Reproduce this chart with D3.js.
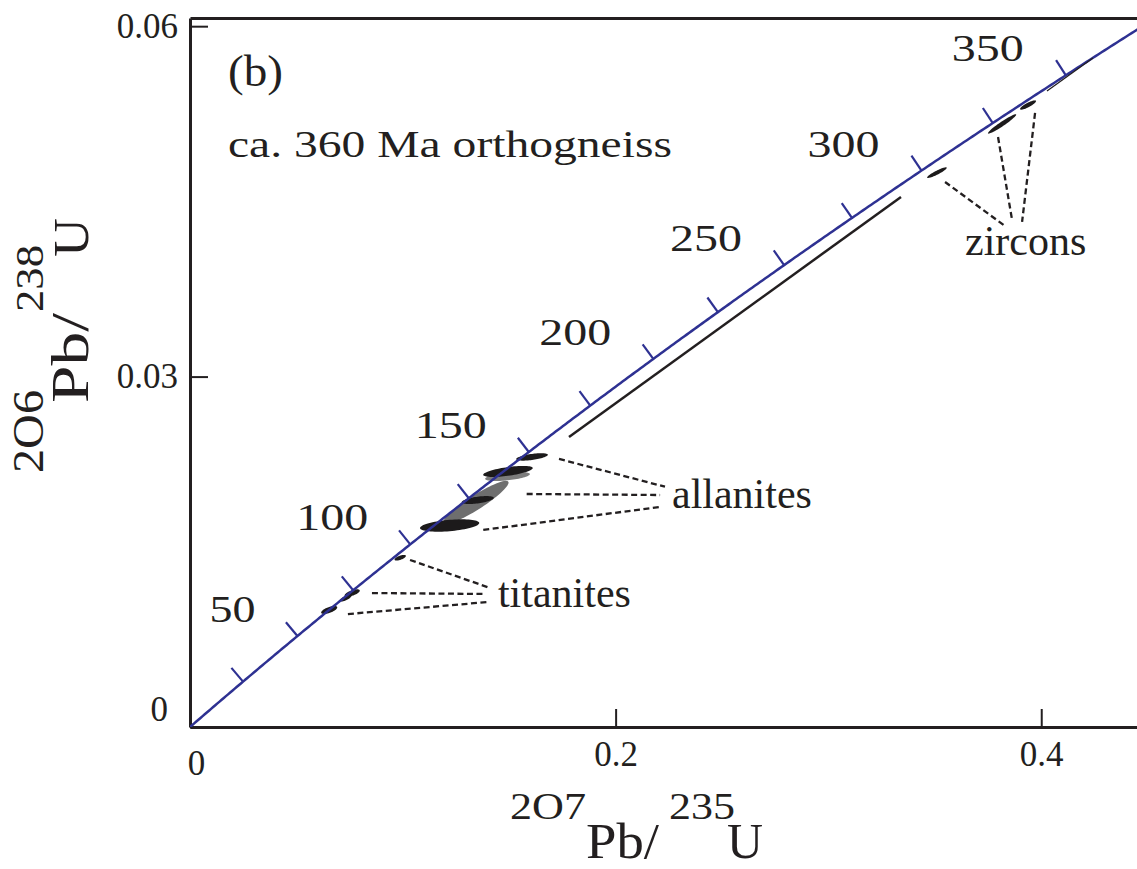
<!DOCTYPE html>
<html>
<head>
<meta charset="utf-8">
<script src="https://cdn.jsdelivr.net/npm/d3@7"></script>
<style>
  body { margin: 0; background: #fff; }
  text { font-family: "Liberation Serif", "Times New Roman", serif; fill: #231f20; }
</style>
</head>
<body>
<div id="chart"></div>
<script>
// axis ticks
var xTicks = [0, 0.2, 0.4];
var yTicks = [0, 0.03, 0.06];

// concordia, ages in Ma
var LAMBDA_235 = 9.8485e-10;
var LAMBDA_238 = 1.55125e-10;
var ageTicks = [25, 50, 75, 100, 125, 150, 175, 200, 225, 250, 275, 300, 325, 350];
var ageLabels = [50, 100, 150, 200, 250, 300, 350];

// error ellipses: 207/235, 206/238, 1 sigma, correlation
var titanites = [
  {x: 0.09878, y: 0.01449, sx: 0.00267, sy: 0.000240, rho: 0.64},
  {x: 0.07622, y: 0.01147, sx: 0.00356, sy: 0.000317, rho: 0.65},
  {x: 0.07307, y: 0.01102, sx: 0.00280, sy: 0.000283, rho: 0.74},
  {x: 0.06541, y: 0.01002, sx: 0.00378, sy: 0.000342, rho: 0.64}
];
var allanitesGrey = [
  {x: 0.1343, y: 0.01922, sx: 0.01538, sy: 0.001853, rho: 0.92},
  {x: 0.1492, y: 0.02145, sx: 0.01051, sy: 0.000385, rho: 0.51}
];
var allanites = [
  {x: 0.1607, y: 0.02312, sx: 0.00745, sy: 0.000318, rho: 0.58},
  {x: 0.1494, y: 0.02188, sx: 0.01164, sy: 0.000471, rho: 0.61},
  {x: 0.1352, y: 0.01943, sx: 0.00754, sy: 0.000342, rho: 0.54},
  {x: 0.1220, y: 0.01725, sx: 0.01391, sy: 0.000531, rho: 0.40}
];
var zircons = [
  {x: 0.3510, y: 0.04746, sx: 0.00462, sy: 0.000454, rho: 0.91},
  {x: 0.3816, y: 0.05163, sx: 0.00664, sy: 0.000830, rho: 0.96},
  {x: 0.3938, y: 0.05325, sx: 0.00376, sy: 0.000398, rho: 0.85}
];

// black chord lines below the concordia
var chords = [
  [[0.1781, 0.02483], [0.3341, 0.04538]],
  [[0.4027, 0.05445], [0.4243, 0.05728]]
];

// mineral labels and their dashed leaders [x1, y1, x2, y2]
var notes = [
  {text: "titanites", x: 0.1447, y: 0.01027, leaders: [
    [0.1034, 0.01430, 0.1410, 0.01190],
    [0.0855, 0.01147, 0.1377, 0.01139],
    [0.0742, 0.00967, 0.1400, 0.01070]]},
  {text: "allanites", x: 0.2265, y: 0.01875, leaders: [
    [0.1734, 0.02295, 0.2232, 0.02057],
    [0.1582, 0.01995, 0.2209, 0.01986],
    [0.1378, 0.01687, 0.2217, 0.01886]]},
  {text: "zircons", x: 0.3642, y: 0.04041, leaders: [
    [0.3548, 0.04666, 0.3830, 0.04289],
    [0.3797, 0.05051, 0.3863, 0.04341],
    [0.3971, 0.05257, 0.3910, 0.04324]]}
];

var W = 1137, H = 869;
var margin = {top: 18, right: 0, bottom: 142, left: 190};

var x = d3.scaleLinear().domain([0, 0.445]).range([margin.left, W - margin.right]);
var y = d3.scaleLinear().domain([0, 0.0607]).range([H - margin.bottom, margin.top]);

var svg = d3.select("#chart").append("svg")
    .attr("width", W)
    .attr("height", H);

svg.append("defs").append("clipPath").attr("id", "plot")
  .append("rect")
    .attr("x", x(0)).attr("y", y.range()[1])
    .attr("width", x.range()[1] - x(0))
    .attr("height", y(0) - y.range()[1]);

var ink = "#231f20";
var blue = "#2e3192";

// axes
var xAxis = d3.axisBottom(x).tickValues(xTicks).tickSize(-18).tickSizeOuter(0).tickPadding(14)
    .tickFormat(function(d) { return d === 0 ? "0" : String(d); });
var yAxis = d3.axisLeft(y).tickValues(yTicks).tickSize(-18).tickSizeOuter(0).tickPadding(12)
    .tickFormat(function(d) { return d === 0 ? "0" : String(d); });

var gx = svg.append("g")
    .attr("transform", "translate(0," + y(0) + ")")
    .call(xAxis);
var gy = svg.append("g")
    .attr("transform", "translate(" + x(0) + ",0)")
    .call(yAxis);
svg.append("g")
    .attr("transform", "translate(0," + y.range()[1] + ")")
    .call(d3.axisTop(x).tickValues([]).tickSizeOuter(0));

[gx, gy].forEach(function(g) {
  g.selectAll(".tick line").attr("stroke", ink).attr("stroke-width", 2);
  g.selectAll("text").attr("font-size", 35).attr("font-family", "Liberation Serif").attr("fill", ink);
});
svg.selectAll(".domain").attr("stroke", ink).attr("stroke-width", 3);
gx.selectAll(".tick text").filter(function(d) { return d === 0; })
    .attr("dy", "0.98em").attr("dx", 6);
gy.selectAll(".tick text").filter(function(d) { return d === 0; })
    .attr("dy", "-0.2em").attr("dx", -10);

// ellipses
function ellipse(d) {
  var k = Math.sqrt(1 - d.rho * d.rho);
  var pts = d3.range(0, 72).map(function(i) {
    var a = i / 72 * 2 * Math.PI;
    return [d.x + d.sx * Math.cos(a), d.y + d.sy * (d.rho * Math.cos(a) + k * Math.sin(a))];
  });
  return d3.line().x(function(p) { return x(p[0]); }).y(function(p) { return y(p[1]); })
    .curve(d3.curveLinearClosed)(pts);
}

var plot = svg.append("g").attr("clip-path", "url(#plot)");

plot.selectAll(".grey").data(allanitesGrey).enter().append("path")
    .attr("class", "grey")
    .attr("d", ellipse)
    .attr("fill", function(d, i) { return i === 0 ? "#6e6e6e" : "#7c7c7c"; });

plot.selectAll(".dark").data(titanites.concat(allanites, zircons)).enter().append("path")
    .attr("class", "dark")
    .attr("d", ellipse)
    .attr("fill", "#1c1a1b");

// concordia
function cx(t) { return Math.exp(LAMBDA_235 * t * 1e6) - 1; }
function cy(t) { return Math.exp(LAMBDA_238 * t * 1e6) - 1; }

plot.append("path")
    .datum(d3.range(0, 381, 1))
    .attr("d", d3.line().x(function(t) { return x(cx(t)); }).y(function(t) { return y(cy(t)); }))
    .attr("fill", "none")
    .attr("stroke", blue)
    .attr("stroke-width", 2.5);

function tickGeom(t) {
  var px = x(cx(t)), py = y(cy(t));
  var tx = (x(cx(t + 1)) - x(cx(t - 1))), ty = (y(cy(t + 1)) - y(cy(t - 1)));
  var n = Math.sqrt(tx * tx + ty * ty);
  return {px: px, py: py, nx: ty / n, ny: -tx / n};
}

plot.selectAll(".ageTick").data(ageTicks).enter().append("line")
    .attr("class", "ageTick")
    .each(function(t) {
      var g = tickGeom(t);
      d3.select(this)
        .attr("x1", g.px).attr("y1", g.py)
        .attr("x2", g.px + g.nx * 18).attr("y2", g.py + g.ny * 18);
    })
    .attr("stroke", blue)
    .attr("stroke-width", 2.2);

svg.selectAll(".ageLabel").data(ageLabels).enter().append("text")
    .attr("class", "ageLabel")
    .each(function(t) {
      var g = tickGeom(t);
      var len = t < 100 ? 46 : 72;
      d3.select(this)
        .attr("x", g.px - 42 - len)
        .attr("y", g.py - 14)
        .attr("textLength", len);
    })
    .attr("lengthAdjust", "spacingAndGlyphs")
    .attr("font-size", 37)
    .text(function(t) { return t; });

// chords
plot.selectAll(".chord").data(chords).enter().append("line")
    .attr("class", "chord")
    .attr("x1", function(d) { return x(d[0][0]); })
    .attr("y1", function(d) { return y(d[0][1]); })
    .attr("x2", function(d) { return x(d[1][0]); })
    .attr("y2", function(d) { return y(d[1][1]); })
    .attr("stroke", ink)
    .attr("stroke-width", function(d, i) { return i === 0 ? 2.5 : 1.3; });

// leaders and labels
var note = svg.selectAll(".note").data(notes).enter().append("g").attr("class", "note");
note.selectAll("line").data(function(d) { return d.leaders; }).enter().append("line")
    .attr("x1", function(d) { return x(d[0]); })
    .attr("y1", function(d) { return y(d[1]); })
    .attr("x2", function(d) { return x(d[2]); })
    .attr("y2", function(d) { return y(d[3]); })
    .attr("stroke", ink)
    .attr("stroke-width", 2.3)
    .attr("stroke-dasharray", "6,3.5");
note.append("text")
    .attr("x", function(d) { return x(d.x); })
    .attr("y", function(d) { return y(d.y); })
    .attr("font-size", 42)
    .text(function(d) { return d.text; });

// panel titles
svg.append("text").attr("x", 228).attr("y", 86)
    .attr("font-size", 45).attr("textLength", 55).attr("lengthAdjust", "spacingAndGlyphs")
    .text("(b)");
svg.append("text").attr("x", 228).attr("y", 157)
    .attr("font-size", 38).attr("textLength", 444).attr("lengthAdjust", "spacingAndGlyphs")
    .text("ca. 360 Ma orthogneiss");

// x axis title
function piece(g, s, px, py, size, len) {
  g.append("text").attr("x", px).attr("y", py)
    .attr("font-size", size).attr("textLength", len).attr("lengthAdjust", "spacingAndGlyphs")
    .text(s);
}
var xt = svg.append("g");
piece(xt, "2O7", 510, 819, 37, 76);
piece(xt, "Pb/", 586, 858, 50, 73);
piece(xt, "235", 669, 819, 37, 66);
piece(xt, "U", 727, 858, 50, 36);

// y axis title, rotated pieces
function vpiece(s, bx, start, end, size) {
  svg.append("text")
    .attr("transform", "translate(" + bx + "," + start + ") rotate(-90)")
    .attr("font-size", size).attr("textLength", start - end).attr("lengthAdjust", "spacingAndGlyphs")
    .text(s);
}
vpiece("2O6", 43, 473, 390, 44);
vpiece("Pb/", 88, 403, 313, 53);
vpiece("238", 43, 312, 245, 40);
vpiece("U", 88, 257, 218, 50);
</script>
</body>
</html>
